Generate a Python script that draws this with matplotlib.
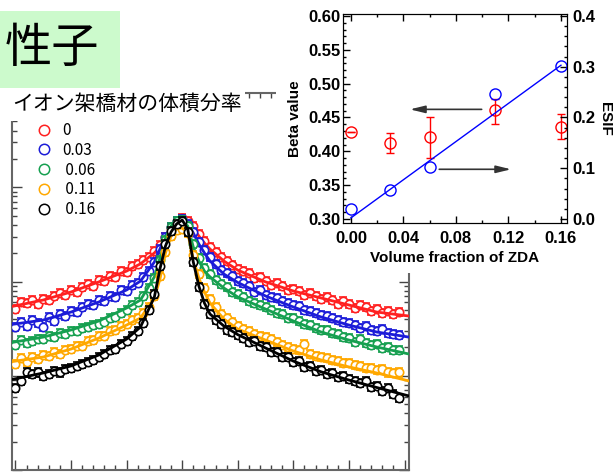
import numpy as np
import matplotlib
matplotlib.use('Agg')
import matplotlib.pyplot as plt
from matplotlib.patches import Rectangle
from matplotlib.lines import Line2D
from matplotlib.ticker import MultipleLocator, LogLocator, NullFormatter

plt.rcParams['font.family'] = ['Noto Sans CJK JP', 'DejaVu Sans']

# scattering profiles (arbitrary units), one curve per crosslinker fraction
q = [-3.0, -2.9, -2.8, -2.7, -2.6, -2.5, -2.4, -2.3, -2.2, -2.1,
     -2.0, -1.9, -1.8, -1.7, -1.6, -1.5, -1.4, -1.3, -1.2, -1.1,
     -1.0, -0.9, -0.8, -0.7, -0.6, -0.5, -0.4, -0.3, -0.2, -0.1,
     0.0, 0.1, 0.2, 0.3, 0.4, 0.5, 0.6, 0.7, 0.8, 0.9,
     1.0, 1.1, 1.2, 1.3, 1.4, 1.5, 1.6, 1.7, 1.8, 1.9,
     2.0, 2.1, 2.2, 2.3, 2.4, 2.5, 2.6, 2.7, 2.8, 2.9,
     3.0, 3.1, 3.2, 3.3, 3.4, 3.5, 3.6, 3.7, 3.8, 3.9]

i_000 = [51.0, 60.6, 59.1, 63.6, 57.7, 65.2, 63.6, 70.2, 75.5, 71.9,
         81.3, 77.4, 87.4, 94, 89.6, 104, 101, 114, 112, 129,
         126, 146, 154, 169, 182, 211, 244, 297, 370, 428,
         472, 438, 388, 319, 269, 232, 206, 182, 165, 150,
         136, 129, 123, 109, 112, 101, 92, 96, 89.6, 81.3,
         83.3, 79.3, 71.9, 75.5, 70.2, 65.2, 68.5, 63.6, 57.7, 62.1,
         57.7, 52.3, 56.3, 53.6, 48.6, 51.0, 46.3, 48.6, 45.2, 47.4]
i_003 = [32.9, 37.2, 33.7, 39.0, 36.3, 32.9, 42.0, 38.1, 45.2, 43.0,
         48.6, 47.4, 53.6, 57.7, 56.3, 63.6, 62.1, 70.2, 68.5, 81.3,
         79.3, 92, 96, 112, 129, 161, 221, 297, 379, 438,
         460, 408, 335, 263, 216, 182, 154, 132, 123, 114,
         101, 96, 89.6, 77.4, 81.3, 71.9, 68.5, 66.8, 62.1, 59.1,
         56.3, 54.9, 49.8, 48.6, 46.3, 44.1, 43.0, 41.0, 39.0, 37.2,
         36.3, 34.5, 32.1, 33.7, 30.6, 29.8, 31.3, 28.4, 27.7, 27.0]
i_006 = [21.2, 23.9, 22.2, 23.3, 24.5, 24.5, 26.4, 25.7, 28.4, 27.7,
         29.8, 29.8, 32.1, 32.9, 34.5, 35.4, 37.2, 41.0, 42.0, 46.3,
         49.8, 56.3, 60.6, 70.2, 85.3, 109, 169, 276, 379, 438,
         449, 388, 250, 178, 139, 120, 104, 94, 87.4, 77.4,
         73.7, 68.5, 62.1, 59.1, 56.3, 53.6, 49.8, 46.3, 45.2, 41.0,
         41.0, 38.1, 35.4, 34.5, 32.1, 30.6, 30.6, 28.4, 27.7, 25.7,
         25.1, 22.8, 24.5, 22.2, 21.2, 21.7, 19.7, 20.2, 18.7, 18.7]
i_011 = [13.3, 15.4, 14.0, 15.8, 15.0, 16.6, 16.2, 17.8, 17.0, 18.7,
         19.2, 20.7, 20.7, 23.3, 23.9, 26.4, 26.4, 29.8, 30.6, 33.7,
         35.4, 39.0, 41.0, 46.3, 53.6, 70.2, 114, 206, 304, 352,
         361, 327, 191, 120, 85.3, 65.2, 53.6, 45.2, 41.0, 37.2,
         33.7, 31.3, 29.8, 27.7, 26.4, 25.7, 24.5, 22.8, 21.2, 20.2,
         19.2, 18.7, 21.7, 17.0, 16.2, 15.8, 15.4, 14.7, 14.3, 13.6,
         13.6, 13.0, 12.7, 12.1, 12.1, 11.5, 11.8, 10.9, 10.7, 10.9]
i_016 = [7.4, 8.8, 10.9, 10.4, 10.9, 9.9, 10.4, 11.2, 10.9, 11.8,
         12.1, 12.7, 13.3, 14.0, 14.7, 15.8, 17.0, 18.7, 19.2, 21.7,
         23.3, 26.4, 29.8, 36.3, 49.8, 73.7, 146, 250, 344, 408,
         438, 335, 161, 87.4, 57.7, 45.2, 39.0, 35.4, 30.6, 29.1,
         27.0, 25.1, 22.8, 23.3, 20.7, 20.2, 17.8, 17.8, 15.8, 15.8,
         14.0, 14.3, 12.4, 12.7, 11.2, 11.5, 10.4, 10.7, 9.7, 9.9,
         9.2, 8.8, 8.4, 8.8, 7.6, 7.8, 6.9, 7.4, 6.4, 5.8]

# fitted curves
q_fit = [-3.07, -2.5, -2.0, -1.5, -1.0, -0.75, -0.5, -0.4, -0.3, -0.2, -0.1, 0.0,
         0.1, 0.2, 0.3, 0.4, 0.5, 0.75, 1.0, 1.5, 2.0, 2.5, 3.0, 3.5, 4.08]
fit_000 = [54.2, 63.6, 77.4, 99, 129, 154, 201, 232, 297, 379, 438, 472,
           428, 370, 304, 256, 221, 165, 132, 99, 79.3, 66.8, 56.3, 47.4, 43.0]
fit_003 = [35, 39, 47.4, 60.6, 81.3, 101, 161, 221, 304, 379, 438, 472,
           418, 327, 250, 201, 165, 120, 97.6, 70.2, 53.6, 42.0, 34.5, 29.1, 25.7]
fit_006 = [22.5, 25.7, 30.6, 38.1, 52.3, 63.6, 112, 178, 289, 388, 438, 449,
           388, 232, 165, 129, 112, 85.3, 68.5, 51.0, 38.1, 29.1, 23.9, 20.2, 17.0]
fit_011 = [14.1, 15.8, 19.2, 25.1, 34.5, 41.0, 66.8, 106, 201, 304, 361, 370,
           327, 173, 109, 77.4, 59.1, 40.0, 31.3, 23.9, 18.3, 14.7, 12.4, 10.7, 8.8]
fit_016 = [9.1, 10.7, 12.7, 16.6, 24.5, 32.9, 68.5, 136, 238, 335, 408, 449,
           361, 161, 89.6, 59.1, 45.2, 33.7, 27.3, 19.7, 14.3, 11.0, 9.0, 7.5, 6.1]
rel_err = 0.1

labels = ['0', '0.03', ' 0.06', ' 0.11', ' 0.16']
colors = ['#ff2020', '#1c1cd8', '#16a050', '#ffa800', 'black']

# inset: beta value and ESIF vs volume fraction of ZDA
vol_frac = [0.0, 0.03, 0.06, 0.11, 0.16]
beta = [0.429, 0.412, 0.421, 0.461, 0.436]
beta_err_lo = [0.0, 0.015, 0.031, 0.021, 0.018]
beta_err_hi = [0.0, 0.015, 0.029, 0.016, 0.019]
esif = [0.019, 0.057, 0.102, 0.246, 0.301]
esif_fit_x = [0.0, 0.16]
esif_fit_y = [0.002, 0.303]

xticks_in = [0.0, 0.04, 0.08, 0.12, 0.16]
xticklabels_in = ['0.00', '0.04', '0.08', '0.12', '0.16']
yticks_left = [0.30, 0.35, 0.40, 0.45, 0.50, 0.55, 0.60]
yticklabels_left = ['0.30', '0.35', '0.40', '0.45', '0.50', '0.55', '0.60']
yticks_right = [0.0, 0.1, 0.2, 0.3, 0.4]
yticklabels_right = ['0.0', '0.1', '0.2', '0.3', '0.4']

W, H = 614, 473
fig = plt.figure(figsize=(W / 100, H / 100), dpi=100)


def box(x0, y0, x1, y1):
    # pixel box (origin top-left) -> figure fraction [l, b, w, h]
    return [x0 / W, 1 - y1 / H, (x1 - x0) / W, (y1 - y0) / H]


# ---- main plot
ax = fig.add_axes(box(11.5, 93, 409, 470))
series = [i_000, i_003, i_006, i_011, i_016]
fits = [fit_000, fit_003, fit_006, fit_011, fit_016]
for k, (I, f, c) in enumerate(zip(series, fits, colors)):
    I = np.array(I)
    ax.errorbar(q, I, yerr=I * rel_err, fmt='o', ms=6, mfc='white', mec=c,
                mew=1.2, ecolor=c, elinewidth=1, capsize=3, zorder=2 + 2 * k)
    ax.plot(q_fit, f, color=c, lw=2, zorder=3 + 2 * k)

ax.set_yscale('log')
ax.set_ylim(1, 1e4)
ax.set_xlim(-3.07, 4.08)
ax.xaxis.set_major_locator(MultipleLocator(1))
ax.xaxis.set_minor_locator(MultipleLocator(0.2))
ax.yaxis.set_major_locator(LogLocator(base=10, numticks=10))
ax.yaxis.set_minor_locator(LogLocator(base=10, subs=np.arange(2, 10), numticks=40))
ax.yaxis.set_minor_formatter(NullFormatter())
ax.tick_params(which='both', direction='in', top=True, right=True,
               labelbottom=False, labelleft=False, color='#444444', width=1)
ax.tick_params(which='major', length=7)
ax.tick_params(which='minor', length=3.5)
for s in ax.spines.values():
    s.set_color('#666666')
    s.set_linewidth(1.5)

handles = [Line2D([], [], ls='none', marker='o', ms=7.5, mfc='none', mec=c, mew=1.1)
           for c in colors]
leg = ax.legend(handles, labels, loc='upper left', bbox_to_anchor=(36 / W, 1 - 122 / H),
                bbox_transform=fig.transFigure, frameon=False, fontsize=11,
                handlelength=1.0, handletextpad=0.7, labelspacing=0.18,
                borderpad=0, borderaxespad=0)
leg.set_zorder(20)

# covers and title boxes
fig.add_artist(Rectangle((276 / W, 1 - 273 / H), 1 - 276 / W, 273 / H,
                         transform=fig.transFigure, facecolor='white',
                         edgecolor='none', zorder=1))
fig.add_artist(Rectangle((0, 1 - 121 / H), 245 / W, 35 / H,
                         transform=fig.transFigure, facecolor='white',
                         edgecolor='none', zorder=1))
fig.add_artist(Rectangle((0, 1 - 88 / H), 120 / W, 77 / H,
                         transform=fig.transFigure, facecolor='#ccfacc',
                         edgecolor='none', zorder=1))
fig.text(5 / W, 1 - 49 / H, '性子', fontsize=34, va='center', ha='left', zorder=3)
fig.text(12 / W, 1 - 104 / H, 'イオン架橋材の体積分率', fontsize=15,
         va='center', ha='left', zorder=3)

# ---- inset
bold = dict(fontweight='bold', family='Liberation Sans')
ax2 = fig.add_axes(box(343, 14, 567, 223))
ax2.set_zorder(2)
ax2.errorbar(vol_frac, beta, yerr=[beta_err_lo, beta_err_hi], fmt='o', ms=8,
             mfc='none', mec='red', mew=1, ecolor='red', elinewidth=1, capsize=3)
ax2.set_xlim(-0.006, 0.1646)
ax2.set_ylim(0.294, 0.603)
ax2.set_xticks(xticks_in)
ax2.set_xticklabels(xticklabels_in, fontsize=12, **bold)
ax2.set_yticks(yticks_left)
ax2.set_yticklabels(yticklabels_left, fontsize=12, **bold)
ax2.xaxis.set_minor_locator(MultipleLocator(0.02))
ax2.yaxis.set_minor_locator(MultipleLocator(0.01))
ax2.tick_params(which='both', direction='in', top=True, right=False, width=1)
ax2.tick_params(which='major', length=5)
ax2.tick_params(which='minor', length=2.5)
ax2.tick_params(axis='x', pad=6)
ax2.tick_params(axis='y', pad=2)
ax2.set_ylabel('Beta value', fontsize=11, labelpad=4, **bold)
ax2.set_xlabel('Volume fraction of ZDA', fontsize=11, labelpad=3, **bold)

arrow = dict(arrowstyle='-|>,head_length=0.9,head_width=0.22', color='#333333',
             lw=1.2, shrinkA=0, shrinkB=0)
ax2.annotate('', xy=(0.045, 0.462), xytext=(0.0996, 0.462), arrowprops=arrow)
ax2.annotate('', xy=(0.122, 0.3734), xytext=(0.0673, 0.3734), arrowprops=arrow)

ax3 = ax2.twinx()
ax3.set_zorder(3)
ax3.patch.set_visible(False)
ax3.plot(esif_fit_x, esif_fit_y, color='blue', lw=1)
ax3.plot(vol_frac, esif, 'o', ms=8, mfc='none', mec='blue', mew=1)
ax3.set_ylim(-0.008, 0.404)
ax3.set_yticks(yticks_right)
ax3.set_yticklabels(yticklabels_right, fontsize=12, **bold)
ax3.yaxis.set_minor_locator(MultipleLocator(0.02))
ax3.tick_params(which='both', direction='in', width=1, pad=4)
ax3.tick_params(which='major', length=5)
ax3.tick_params(which='minor', length=2.5)
ax3.set_ylabel('ESIF', fontsize=11, rotation=270, va='bottom', labelpad=2, **bold)

fig.savefig('out.png', dpi=100)
